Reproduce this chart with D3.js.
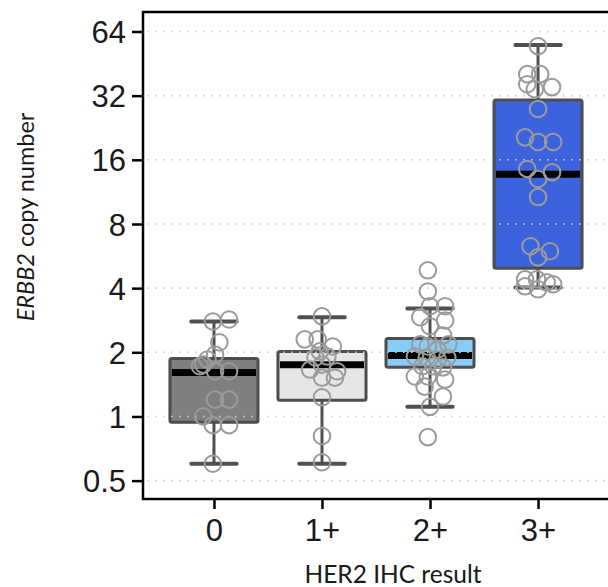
<!DOCTYPE html>
<html>
<head>
<meta charset="utf-8">
<script src="https://cdnjs.cloudflare.com/ajax/libs/d3/7.8.5/d3.min.js"></script>
<style>
  html, body { margin: 0; padding: 0; background: #fff; }
  svg { display: block; }
</style>
</head>
<body>
<div id="chart"></div>
<script>
// categories and axis ticks
var categories = ["0", "1+", "2+", "3+"];
var yTicks = [0.5, 1, 2, 4, 8, 16, 32, 64];

// box statistics
var whiskerLow  = [0.60, 0.60, 1.11, 4.03];
var q1          = [0.94, 1.19, 1.70, 4.96];
var median      = [1.61, 1.75, 1.93, 13.7];
var q3          = [1.87, 2.02, 2.32, 30.5];
var whiskerHigh = [2.79, 2.92, 3.21, 55.3];

// individual samples (copy number) and their horizontal jitter (in category steps)
var values0 = [2.79, 2.85, 2.23, 1.95, 1.85, 1.75, 1.72, 1.63, 1.63, 1.20, 1.20, 1.00, 0.91, 0.91, 0.60];
var jitter0 = [-0.01, 0.14, 0.05, 0.01, -0.06, -0.10, -0.13, 0.01, 0.14, 0.01, 0.14, -0.10, -0.01, 0.14, -0.01];

var values1 = [2.95, 2.30, 2.30, 2.13, 2.02, 1.91, 1.89, 1.75, 1.66, 1.63, 1.52, 1.52, 1.23, 0.81, 0.61];
var jitter1 = [0, -0.16, -0.04, 0.10, -0.02, 0.05, -0.06, 0, -0.11, 0.14, 0, 0.12, 0, 0, 0];

var values2 = [4.85, 3.86, 3.29, 3.29, 2.92, 2.82, 2.65, 2.40, 2.18, 2.13, 2.06, 2.18, 1.91,
               1.89, 1.85, 1.89, 1.72, 1.72, 1.70, 1.54, 1.54, 1.49, 1.38, 1.24, 1.11, 0.80];
var jitter2 = [-0.02, -0.02, 0, 0.14, -0.09, 0.14, 0, 0.12, -0.09, -0.02, 0.07, 0.17, -0.14,
               -0.03, 0.07, 0.16, -0.07, 0.03, 0.12, -0.14, -0.02, 0.14, -0.05, 0.12, 0, -0.02];

var values3 = [54.6, 40.4, 40.4, 36.2, 35.1, 34.3, 27.7, 20.4, 19.4, 19.4, 14.5, 14.0, 13.0, 10.7,
               6.29, 5.96, 5.58, 4.40, 4.40, 4.26, 4.17, 4.08, 3.95];
var jitter3 = [0, -0.10, 0.02, -0.10, 0.13, -0.03, 0, -0.12, 0, 0.14, -0.10, 0.13, 0, 0,
               -0.07, 0.11, 0, -0.12, -0.01, 0.08, 0.14, -0.12, 0];

var boxColors = ["#7f7f7f", "#e6e6e6", "#87cdf7", "#3d62dd"];

var allValues = [values0, values1, values2, values3];
var allJitter = [jitter0, jitter1, jitter2, jitter3];

var width = 608, height = 587;
var margin = { left: 143, right: -1, top: 12, bottom: 88 };

var svg = d3.select("#chart").append("svg")
    .attr("width", width)
    .attr("height", height);

var x = d3.scalePoint().domain(categories)
    .range([margin.left, width - margin.right])
    .padding(0.657);
var y = d3.scaleLog().base(2).domain([0.41, 79])
    .range([height - margin.bottom, margin.top]);

var step = x.step();
var boxW = step * 0.815;
var capW = step * 0.42;

var boxes = categories.map(function(c, i) {
    return { cat: c, lo: whiskerLow[i], q1: q1[i], med: median[i], q3: q3[i], hi: whiskerHigh[i], fill: boxColors[i] };
});

var points = [];
allValues.forEach(function(vals, i) {
    vals.forEach(function(v, j) {
        points.push({ cat: categories[i], v: v, dx: allJitter[i][j] });
    });
});

var plot = svg.append("g");

// whiskers
var wg = plot.selectAll(".whisker").data(boxes).enter().append("g").attr("class", "whisker");
wg.append("line")
    .attr("x1", function(d) { return x(d.cat); })
    .attr("x2", function(d) { return x(d.cat); })
    .attr("y1", function(d) { return y(d.lo); })
    .attr("y2", function(d) { return y(d.hi); })
    .attr("stroke", "#505050").attr("stroke-width", 3);
wg.append("line")
    .attr("x1", function(d) { return x(d.cat) - capW / 2; })
    .attr("x2", function(d) { return x(d.cat) + capW / 2; })
    .attr("y1", function(d) { return y(d.hi); })
    .attr("y2", function(d) { return y(d.hi); })
    .attr("stroke", "#505050").attr("stroke-width", 4).attr("stroke-linecap", "round");
wg.append("line")
    .attr("x1", function(d) { return x(d.cat) - capW / 2; })
    .attr("x2", function(d) { return x(d.cat) + capW / 2; })
    .attr("y1", function(d) { return y(d.lo); })
    .attr("y2", function(d) { return y(d.lo); })
    .attr("stroke", "#505050").attr("stroke-width", 4).attr("stroke-linecap", "round");

// boxes
plot.selectAll(".box").data(boxes).enter().append("rect")
    .attr("class", "box")
    .attr("x", function(d) { return x(d.cat) - boxW / 2; })
    .attr("width", boxW)
    .attr("y", function(d) { return y(d.q3); })
    .attr("height", function(d) { return y(d.q1) - y(d.q3); })
    .attr("rx", 2)
    .attr("fill", function(d) { return d.fill; })
    .attr("stroke", "#4d4d4d").attr("stroke-width", 3);

// medians
plot.selectAll(".median").data(boxes).enter().append("line")
    .attr("class", "median")
    .attr("x1", function(d) { return x(d.cat) - boxW / 2 + 2; })
    .attr("x2", function(d) { return x(d.cat) + boxW / 2 - 2; })
    .attr("y1", function(d) { return y(d.med); })
    .attr("y2", function(d) { return y(d.med); })
    .attr("stroke", "#000").attr("stroke-width", 7);

// dotted grid on top of the boxes
plot.selectAll(".grid").data(yTicks).enter().append("line")
    .attr("class", "grid")
    .attr("x1", margin.left + 4).attr("x2", width)
    .attr("y1", function(d) { return y(d); })
    .attr("y2", function(d) { return y(d); })
    .attr("stroke", "#d0d0d0").attr("stroke-width", 1.6)
    .attr("stroke-dasharray", "1.6,6.4");

// samples
plot.selectAll(".pt").data(points).enter().append("circle")
    .attr("class", "pt")
    .attr("cx", function(d) { return x(d.cat) + d.dx * step; })
    .attr("cy", function(d) { return y(d.v); })
    .attr("r", 8.3)
    .attr("fill", "none")
    .attr("stroke", "#9b9b9b").attr("stroke-width", 2);

// frame (right edge falls just outside the picture)
svg.append("rect")
    .attr("x", margin.left).attr("y", margin.top)
    .attr("width", width + 4 - margin.left)
    .attr("height", height - margin.bottom - margin.top)
    .attr("fill", "none").attr("stroke", "#000").attr("stroke-width", 2.5);

// axes
var yAxis = d3.axisLeft(y).tickValues(yTicks).tickSize(11).tickPadding(6)
    .tickFormat(function(d) { return d; });
var xAxis = d3.axisBottom(x).tickSize(10).tickPadding(10);

var yg = svg.append("g").attr("transform", "translate(" + margin.left + ",0)").call(yAxis);
var xg = svg.append("g").attr("transform", "translate(0," + (height - margin.bottom) + ")").call(xAxis);

[yg, xg].forEach(function(g) {
    g.select(".domain").remove();
    g.selectAll(".tick line").attr("stroke", "#000").attr("stroke-width", 2.5);
    g.selectAll(".tick text")
        .attr("fill", "#1a1a1a")
        .style("font-family", "'Liberation Sans', Arial, sans-serif")
        .style("font-size", "31px");
});
yg.selectAll(".tick text").attr("dy", "0.36em");

// axis titles
svg.append("text")
    .attr("x", 393).attr("y", 583)
    .attr("text-anchor", "middle")
    .attr("fill", "#1a1a1a")
    .style("font-family", "Lato, 'Open Sans', sans-serif")
    .style("font-size", "24.5px")
    .text("HER2 IHC result");

var yt = svg.append("text")
    .attr("transform", "translate(34,217) rotate(-90)")
    .attr("text-anchor", "middle")
    .attr("fill", "#1a1a1a")
    .style("font-family", "Lato, 'Open Sans', sans-serif")
    .style("font-size", "23.5px");
yt.append("tspan").style("font-style", "italic").text("ERBB2");
yt.append("tspan").text(" copy number");
</script>
</body>
</html>
